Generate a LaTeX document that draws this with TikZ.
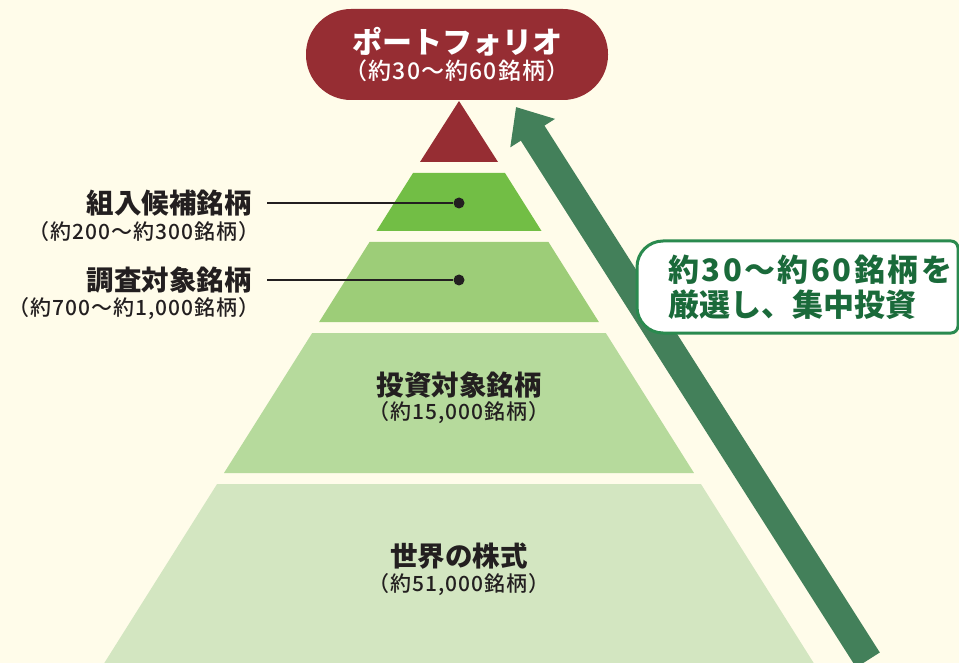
\documentclass[tikz,border=0pt]{standalone}
\usepackage{fontspec}
\setmainfont{Noto Sans CJK JP}
\newfontfamily\subfont{Noto Sans CJK JP Medium}[LetterSpace=5]
\newfontfamily\pickfont{Noto Sans CJK JP Bold}[LetterSpace=8]
\usetikzlibrary{arrows.meta,positioning}
\definecolor{bgcream}{HTML}{FFFCEA}
\definecolor{portred}{HTML}{962D33}
\definecolor{layerB}{HTML}{72BE45}
\definecolor{layerC}{HTML}{9DCD78}
\definecolor{layerD}{HTML}{B6DA9C}
\definecolor{layerE}{HTML}{D3E6C1}
\definecolor{arrowgreen}{HTML}{43805A}
\definecolor{pickgreen}{HTML}{2A8A4F}
\definecolor{picktext}{HTML}{1A6A3A}
\definecolor{inkgray}{HTML}{231F20}

\begin{document}
\begin{tikzpicture}[
		x=1pt, y=-1pt,
		title/.style={font=\fontsize{27.5}{30}\selectfont\bfseries, text=inkgray, inner sep=0pt},
		count/.style={font=\subfont\fontsize{21}{24}\selectfont, text=inkgray, inner sep=0pt},
		pin/.style={circle, fill=inkgray, inner sep=0pt, minimum size=11pt},
		pinline/.style={draw=inkgray, line width=1.3pt},
		pill/.style={fill=portred, rounded corners=45pt, minimum width=302pt, minimum height=91pt, text=white, align=center, inner sep=0pt},
	]
		\fill[bgcream] (0,0) rectangle (959,663);
		\useasboundingbox (0,0) rectangle (959,663);

		% pyramid
		\fill[portred] (459,101) -- (498,162) -- (420,162) -- cycle;
		\foreach \ytop/\ybot/\col in {173/231/layerB, 242/322/layerC, 333/473/layerD, 484/663/layerE}
			\fill[\col] ({459-0.63*(\ytop-100)},\ytop) -- ({459+0.63*(\ytop-100)},\ytop)
				-- ({459+0.63*(\ybot-100)},\ybot) -- ({459-0.63*(\ybot-100)},\ybot) -- cycle;

		\node[pill] (port) at (457,54.5) {{\fontsize{30}{31}\selectfont\bfseries ポートフォリオ}\\[3pt]{\subfont\fontsize{23}{26}\selectfont （約30〜約60銘柄）}};

		\node[title] (world) at (459,556) {世界の株式};
		\node[count] (worldNum) at (459,585) {（約51,000銘柄）};
		\node[title] (invest) at (459,385) {投資対象銘柄};
		\node[count] (investNum) at (459,413) {（約15,000銘柄）};

		\node[title, anchor=east] (cand) at (252,203) {組入候補銘柄};
		\node[count, anchor=east] (candNum) at (260,232) {（約200〜約300銘柄）};
		\node[title, anchor=east] (survey) at (252,280) {調査対象銘柄};
		\node[count, anchor=east] (surveyNum) at (260,309) {（約700〜約1,000銘柄）};

		\node[pin] (candPin) at (459,203) {};
		\node[pin] (surveyPin) at (459,280) {};
		\draw[pinline] ([xshift=15pt]cand.east) -- (candPin);
		\draw[pinline] ([xshift=15pt]survey.east) -- (surveyPin);

		% arrow
		\coordinate (arrowFoot) at (868,660);
		\coordinate (arrowTip) at (516,107);
		\draw[arrowgreen, line width=28pt, -{Triangle[width=51pt, length=31pt]}] (arrowFoot) -- (arrowTip);

		\draw[pickgreen, line width=3pt, fill=white] (800,333) [rounded corners=26pt] -- (637,333) -- (637,241) -- (800,241)
			[rounded corners=7pt] -- (958,241) -- (958,333) -- cycle;
		\node[anchor=west, align=left, text=picktext, font=\fontsize{31}{35}\selectfont\bfseries, inner sep=0pt] (pick) at (668,287) {{\pickfont 約30〜約60銘柄を}\\厳選し、集中投資};
	\end{tikzpicture}
\end{document}
